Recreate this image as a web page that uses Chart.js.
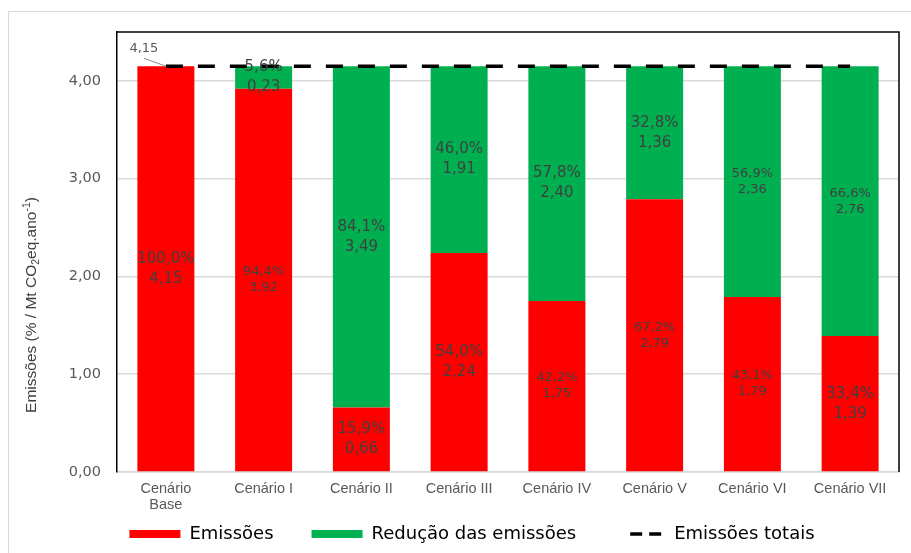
<!DOCTYPE html>
<html>
<head>
<meta charset="utf-8">
<script src="https://cdn.jsdelivr.net/npm/chart.js@4/dist/chart.umd.min.js"></script>
<style>
  body { margin: 0; background: #fff; }
  #wrap { position: relative; width: 911px; height: 553px; overflow: hidden; }
  #frame { position: absolute; left: 8px; top: 11px; width: 1000px; height: 1000px; border: 1px solid #d9d9d9; }
  #chart { position: absolute; left: 0; top: 0; }
</style>
</head>
<body>
<div id="wrap">
  <div id="frame"></div>
  <canvas id="chart" width="911" height="553"></canvas>
</div>
<script>
const categories = [["Cenário", "Base"], "Cenário I", "Cenário II", "Cenário III", "Cenário IV", "Cenário V", "Cenário VI", "Cenário VII"];
const emissions = [4.15, 3.92, 0.66, 2.24, 1.75, 2.79, 1.79, 1.39];
const reductions = [0, 0.23, 3.49, 1.91, 2.40, 1.36, 2.36, 2.76];
const emissionsPct = [100.0, 94.4, 15.9, 54.0, 42.2, 67.2, 43.1, 33.4];
const reductionsPct = [0, 5.6, 84.1, 46.0, 57.8, 32.8, 56.9, 66.6];
const totals = [4.15, 4.15, 4.15, 4.15, 4.15, 4.15, 4.15, 4.15];
const yTicks = [0, 1, 2, 3, 4];

const RED = "#ff0000";
const GREEN = "#00b050";
const GRAY = "#595959";

// which labels use the bigger font (emissions row, reductions row)
const bigLabel = [
  [true, false, true, true, false, false, false, true],
  [true, true, true, true, true, true, false, false]
];

function num(v) { return v.toFixed(2).replace(".", ","); }
function pct(v) { return v.toFixed(1).replace(".", ",") + "%"; }

const extras = {
  id: "extras",
  afterDatasetsDraw(chart) {
    const ctx = chart.ctx;
    ctx.save();
    ctx.textAlign = "center";
    ctx.textBaseline = "middle";
    ctx.fillStyle = "#404040";
    [[emissions, emissionsPct], [reductions, reductionsPct]].forEach(([vals, pcts], d) => {
      chart.getDatasetMeta(d).data.forEach((bar, i) => {
        if (!vals[i]) return;
        const big = bigLabel[d][i];
        const gap = big ? 10 : 8;
        const cy = (bar.y + bar.base) / 2;
        ctx.font = (big ? 15 : 13) + "px 'DejaVu Sans'";
        ctx.fillText(pct(pcts[i]), bar.x, cy - gap);
        ctx.fillText(num(vals[i]), bar.x, cy + gap);
      });
    });
    ctx.restore();
  },
  afterDraw(chart) {
    const ctx = chart.ctx;
    const area = chart.chartArea;
    const x = chart.scales.x, y = chart.scales.y;
    ctx.save();
    // plot box top & right
    ctx.strokeStyle = "#000";
    ctx.lineWidth = 1.5;
    ctx.beginPath();
    ctx.moveTo(area.left, area.top);
    ctx.lineTo(area.right, area.top);
    ctx.lineTo(area.right, area.bottom);
    ctx.stroke();

    // callout for the first total
    const px = x.getPixelForValue(0), py = y.getPixelForValue(totals[0]);
    ctx.strokeStyle = "#8c8c8c";
    ctx.lineWidth = 1;
    ctx.beginPath();
    ctx.moveTo(px - 22, py - 8);
    ctx.lineTo(px, py);
    ctx.stroke();
    ctx.fillStyle = GRAY;
    ctx.font = "13px 'DejaVu Sans'";
    ctx.textAlign = "center";
    ctx.textBaseline = "middle";
    ctx.fillText(num(totals[0]), px - 22, py - 18);

    // y axis title with sub/superscript
    const parts = [
      ["Emissões (% / Mt CO", 15.5, 0],
      ["2", 10.5, 4],
      ["eq.ano", 15.5, 0],
      ["-1", 10.5, -5],
      [")", 15.5, 0]
    ];
    ctx.translate(32, 305);
    ctx.rotate(-Math.PI / 2);
    ctx.fillStyle = "#404040";
    ctx.textAlign = "left";
    let total = 0;
    parts.forEach(p => { ctx.font = p[1] + "px 'Liberation Sans'"; total += ctx.measureText(p[0]).width; });
    let cx = -total / 2;
    parts.forEach(p => {
      ctx.font = p[1] + "px 'Liberation Sans'";
      ctx.fillText(p[0], cx, p[2]);
      cx += ctx.measureText(p[0]).width;
    });
    ctx.restore();
  }
};

new Chart(document.getElementById("chart"), {
  data: {
    labels: categories,
    datasets: [
      { type: "bar", label: "Emissões", data: emissions, backgroundColor: RED, stack: "s", order: 1,
        barPercentage: 0.583, categoryPercentage: 1 },
      { type: "bar", label: "Redução das emissões", data: reductions, backgroundColor: GREEN, stack: "s", order: 1,
        barPercentage: 0.583, categoryPercentage: 1 },
      { type: "line", label: "Emissões totais", data: totals, borderColor: "#000", borderWidth: 3.5,
        borderDash: [17, 15], pointRadius: 0, fill: false, stack: "t", order: 0 }
    ]
  },
  options: {
    responsive: false,
    animation: false,
    devicePixelRatio: 1,
    layout: { padding: { left: 45, right: 12, top: 32, bottom: 0 } },
    scales: {
      x: {
        stacked: true,
        afterFit(s) {
          s.height = 15;
          // labels hang below the short axis box, so don't clip them to it
          s._computeLabelArea = () => undefined;
        },
        grid: { display: false, drawTicks: false },
        border: { color: "#d9d9d9", width: 1.5 },
        ticks: { color: GRAY, font: { family: "'Liberation Sans'", size: 14.5, lineHeight: 1.1 }, padding: 9,
          maxRotation: 0, autoSkip: false }
      },
      y: {
        stacked: true,
        min: 0,
        max: 4.5,
        afterFit(s) { s.width = 72; },
        afterBuildTicks(s) { s.ticks = yTicks.map(v => ({ value: v })); },
        grid: { color: "#d9d9d9", lineWidth: 1.5, drawTicks: false },
        border: { color: "#000", width: 1.5 },
        ticks: { color: GRAY, font: { family: "'DejaVu Sans'", size: 14.5 }, padding: 16, callback: v => num(v) }
      }
    },
    plugins: {
      tooltip: { enabled: false },
      legend: {
        position: "bottom",
        labels: {
          usePointStyle: true,
          pointStyleWidth: 51,
          boxHeight: 8,
          padding: 38,
          color: GRAY,
          font: { family: "'DejaVu Sans'", size: 18 },
          generateLabels: () => [
            { text: "Emissões", fillStyle: RED, strokeStyle: RED, lineWidth: 0, pointStyle: "rect", datasetIndex: 0 },
            { text: "Redução das emissões", fillStyle: GREEN, strokeStyle: GREEN, lineWidth: 0, pointStyle: "rect", datasetIndex: 1 },
            { text: "Emissões totais", fillStyle: "#000", strokeStyle: "#000", lineWidth: 3.5,
              lineDash: [0, 16, 12, 7, 12, 4], pointStyle: "line", datasetIndex: 2 }
          ]
        }
      }
    }
  },
  plugins: [extras]
});
</script>
</body>
</html>
